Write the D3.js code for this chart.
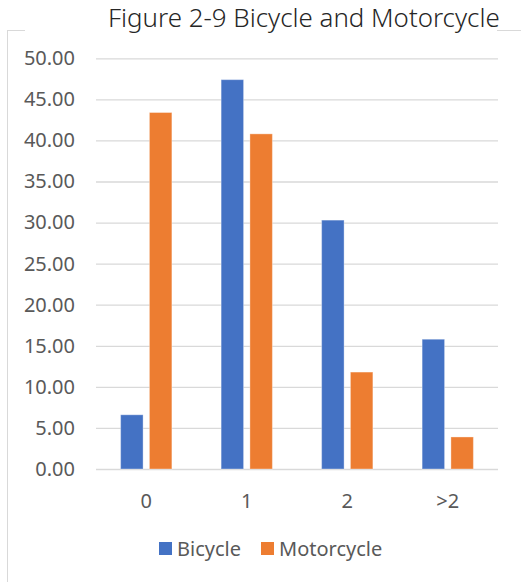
<!DOCTYPE html>
<html>
<head>
<meta charset="utf-8">
<script src="https://cdn.jsdelivr.net/npm/d3@7"></script>
<style>
  html, body { margin: 0; padding: 0; background: #fff; }
  svg { display: block; }
  text { font-family: "Noto Sans", "Open Sans", sans-serif; }
</style>
</head>
<body>
<svg id="chart" width="521" height="582"></svg>
<script>
// Data
const titleText = "Figure 2-9 Bicycle and Motorcycle";
const categories = ["0", "1", "2", ">2"];
const seriesNames = ["Bicycle", "Motorcycle"];
const bicycle = [6.6, 47.4, 30.3, 15.8];
const motorcycle = [43.4, 40.8, 11.8, 3.9];
const yTicks = [0, 5, 10, 15, 20, 25, 30, 35, 40, 45, 50];
const colors = ["#4472C4", "#ED7D31"];

const svg = d3.select("#chart");
const labelFont = "Noto Sans, Open Sans, sans-serif";
const labelSize = 20;

// Chart frame (only left and top edges fall inside the view)
svg.append("rect")
  .attr("x", 7.5).attr("y", 30.5)
  .attr("width", 600).attr("height", 600)
  .attr("fill", "#fff")
  .attr("stroke", "#d9d9d9").attr("stroke-width", 1);

// Title sits on a white band over the frame edge
svg.append("rect")
  .attr("x", 25).attr("y", 0).attr("width", 472).attr("height", 36)
  .attr("fill", "#fff");
const title = svg.append("text")
  .attr("x", 108).attr("y", 27)
  .attr("font-size", 26)
  .attr("font-family", "Lato, Open Sans, sans-serif")
  .attr("font-weight", 300)
  .attr("fill", "#262626")
  .text(titleText);
// fit the title to its span
const tw = title.node().getComputedTextLength();
title.attr("font-size", 26 * 392 / tw);

const plot = { left: 96, right: 498, top: 58.3, bottom: 469 };

const y = d3.scaleLinear().domain([0, 50]).range([plot.bottom, plot.top]);
const x0 = d3.scaleBand().domain(categories)
  .range([plot.left, plot.right]).paddingInner(0.49).paddingOuter(0.245);
const x1 = d3.scaleBand().domain(seriesNames)
  .range([0, x0.bandwidth()]).paddingInner(0.22);

// Gridlines and value labels
const yAxis = d3.axisLeft(y).tickValues(yTicks)
  .tickSize(-(plot.right - plot.left))
  .tickFormat(d3.format(".2f"))
  .tickPadding(21);
const gy = svg.append("g")
  .attr("transform", `translate(${plot.left},0)`)
  .call(yAxis);
gy.select(".domain").remove();
gy.selectAll(".tick line").attr("stroke", "#d9d9d9").attr("stroke-width", 1.3);
gy.selectAll(".tick text")
  .attr("fill", "#595959")
  .attr("font-size", labelSize)
  .attr("font-family", labelFont);

// Bars
const rows = categories.map((c, i) => ({ cat: c, vals: [bicycle[i], motorcycle[i]] }));
const groups = svg.append("g").selectAll("g")
  .data(rows).join("g")
  .attr("transform", d => `translate(${x0(d.cat)},0)`);
groups.selectAll("rect")
  .data(d => d.vals.map((v, j) => ({ name: seriesNames[j], v, j })))
  .join("rect")
  .attr("x", d => x1(d.name))
  .attr("y", d => y(d.v))
  .attr("width", x1.bandwidth())
  .attr("height", d => y(0) - y(d.v))
  .attr("fill", d => colors[d.j])
  .attr("stroke", "#fff").attr("stroke-opacity", 0.35).attr("stroke-width", 1);

// Category axis labels
const xAxis = d3.axisBottom(x0).tickSize(0).tickPadding(25);
const gx = svg.append("g")
  .attr("transform", `translate(0,${plot.bottom})`)
  .call(xAxis);
gx.select(".domain").remove();
gx.selectAll(".tick text")
  .attr("fill", "#595959")
  .attr("font-size", labelSize)
  .attr("font-family", labelFont);

// Legend
const legend = svg.append("g");
const legendItems = [
  { name: seriesNames[0], color: colors[0], x: 159 },
  { name: seriesNames[1], color: colors[1], x: 261 }
];
legendItems.forEach(it => {
  legend.append("rect")
    .attr("x", it.x).attr("y", 542)
    .attr("width", 13).attr("height", 13)
    .attr("fill", it.color);
  legend.append("text")
    .attr("x", it.x + 18).attr("y", 555.5)
    .attr("font-size", labelSize)
    .attr("font-family", labelFont)
    .attr("fill", "#595959")
    .text(it.name);
});
</script>
</body>
</html>
